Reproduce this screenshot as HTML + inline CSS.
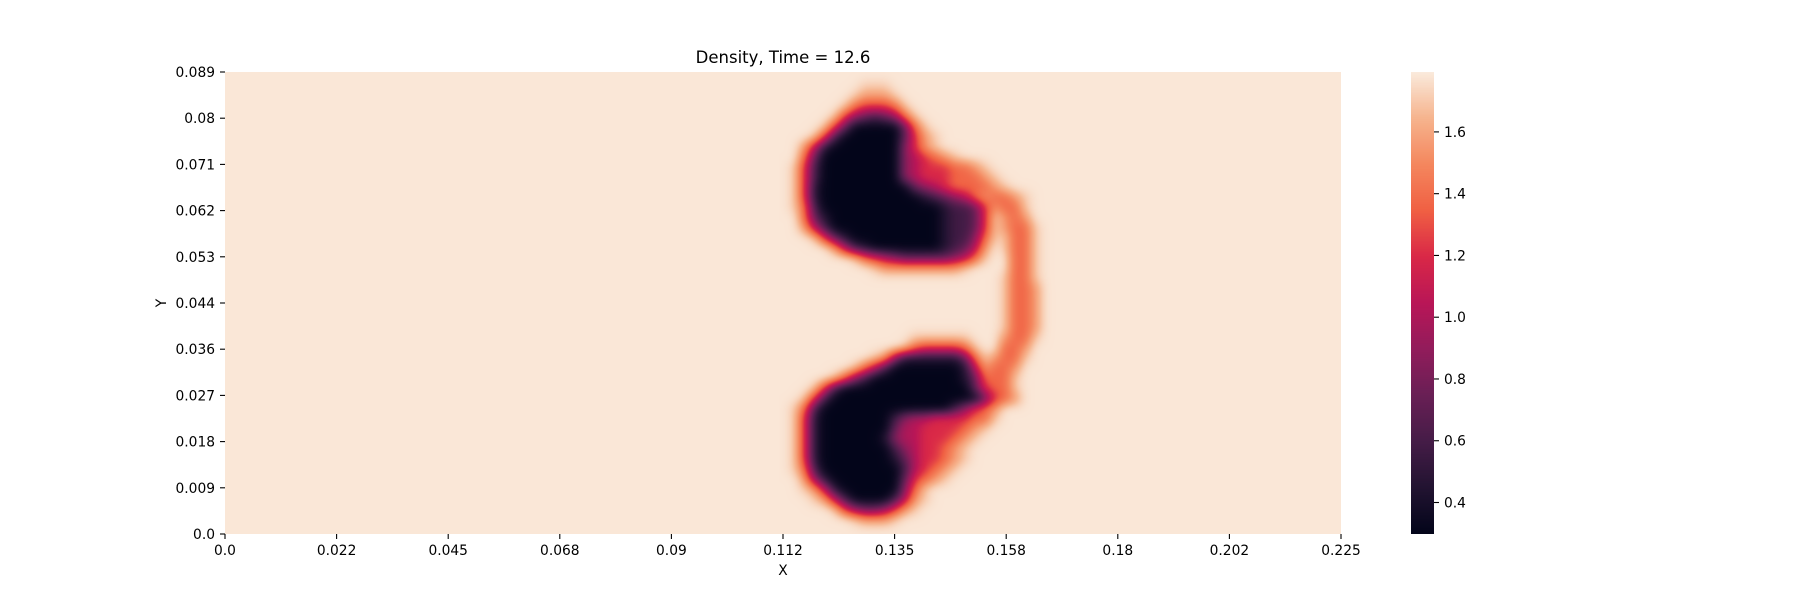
<!DOCTYPE html>
<html><head><meta charset="utf-8"><style>
html,body{margin:0;padding:0;background:#fff;}
#wrap{position:relative;width:1800px;height:600px;overflow:hidden;font-family:"DejaVu Sans","Liberation Sans",sans-serif;}
canvas{position:absolute;}
svg{position:absolute;left:0;top:0;}
</style></head><body>
<div id="wrap">
<canvas id="heat" width="1116" height="462" style="left:225px;top:72px;"></canvas>
<canvas id="cbar" width="23" height="462" style="left:1411px;top:72px;"></canvas>
<svg id="ax" width="1800" height="600">
<text x="783" y="63" font-size="16.5" text-anchor="middle" fill="#000">Density, Time = 12.6</text>
<text x="783" y="575" font-size="13.8" text-anchor="middle" fill="#000">X</text>
<text x="166" y="303" font-size="13.8" text-anchor="middle" fill="#000" transform="rotate(-90 166 303)">Y</text>
</svg>
</div>
<script>
// ---- data ----
const xTickLabels = ["0.0","0.022","0.045","0.068","0.09","0.112","0.135","0.158","0.18","0.202","0.225"];
const yTickLabels = ["0.0","0.009","0.018","0.027","0.036","0.044","0.053","0.062","0.071","0.08","0.089"];
const cbarTicks = [0.4,0.6,0.8,1.0,1.2,1.4,1.6];
const vmin = 0.298, vmax = 1.794;
const background = 1.782;
// density levels per grid character
const levelKeys = [".","9","8","7","6","5","4","3","2","1","0"];
const levelValues = [1.782,1.70,1.55,1.37,1.20,1.02,0.88,0.72,0.58,0.45,0.30];
// density grid over x∈[0.1119,0.1683], 28 columns x 46 rows (top row = y 0.089)
const gridX0 = 0.1119, gridX1 = 0.1683;
const densityRows = [
"",
"........999",
".......98889",
"......9766679",
".....964323479",
"....96300000379",
"...9620000003689",
"..85100000004689",
"..7300000000456789",
".96200000000456667789",
".962000000004566677789",
".9610000000003456777789",
".961000000000012345787789",
".972000000000000122368779",
"..73100000000000122369878",
"..852000000000001223698779",
"...96310000000001224799779",
".....8521000000012358.9779",
".......97654333334579..779",
".........9888888889....779",
"......................9779",
"......................9778",
"......................9778",
"......................9778",
"......................9778",
"......................9778",
".............999999...8779",
"............97666679..778",
".........9841111113798779",
".......97520000000158778",
".....9742000000000137779",
"...962000000000000036779",
"..9620000000000000003678",
".972000000000000024678",
".961000000024556666779",
".96100000003556666789",
".9610000001455666789",
".961000000024566789",
".961000000013566789",
".97200000000256789",
"..841000000036789",
"..9851000000479",
"...985200002589",
".....964334689",
".......98889",
""
];
// ---- geometry ----
const PL=225, PR=1341, PT=72, PB=534;
const xScale = v => PL + (v-0)/(0.225-0)*(PR-PL);
const yScale = i => PB - i*(PB-PT)/(yTickLabels.length-1);
const stops=[[0,"#03051a"],[0.1,"#221331"],[0.2,"#451c47"],[0.3,"#691f55"],[0.4,"#921c5b"],[0.5,"#b91657"],[0.6,"#d92847"],[0.7,"#f06043"],[0.8,"#f4875e"],[0.9,"#f6b48e"],[1,"#faebdd"]];
function hex(h){return [parseInt(h.substr(1,2),16),parseInt(h.substr(3,2),16),parseInt(h.substr(5,2),16)];}
function cmap(v){
  let t=Math.max(0,Math.min(1,(v-vmin)/(vmax-vmin)));
  for(let i=1;i<stops.length;i++){ if(t<=stops[i][0]){ const a=hex(stops[i-1][1]),b=hex(stops[i][1]); const f=(t-stops[i-1][0])/(stops[i][0]-stops[i-1][0]); return a.map((c,k)=>Math.round(c+(b[k]-c)*f)); } }
  return hex(stops[stops.length-1][1]);
}
// ---- heatmap ----
const hc=document.getElementById('heat').getContext('2d');
const bg=cmap(background);
hc.fillStyle=`rgb(${bg[0]},${bg[1]},${bg[2]})`;
hc.fillRect(0,0,1116,462);
const cols=28, rows=densityRows.length;
const grid=[];
for(let r=0;r<rows;r++){
  const s=(densityRows[r]+".".repeat(cols)).slice(0,cols); const row=[];
  for(let c=0;c<cols;c++){ const k=levelKeys.indexOf(s[c]); row.push(levelValues[k<0?0:k]); }
  grid.push(row);
}
const gx0=xScale(gridX0)-PL, gx1=xScale(gridX1)-PL;
const W=Math.round(gx1-gx0), H=462;
let field=new Float32Array(W*H);
for(let py=0;py<H;py++){
  let v=(py+0.5)/H*rows-0.5; v=Math.max(0,Math.min(rows-1,v));
  const r0=Math.floor(v), r1=Math.min(rows-1,r0+1), fy=v-r0;
  for(let px=0;px<W;px++){
    let u=(px+0.5)/W*cols-0.5; u=Math.max(0,Math.min(cols-1,u));
    const c0=Math.floor(u), c1=Math.min(cols-1,c0+1), fx=u-c0;
    field[py*W+px]=(grid[r0][c0]*(1-fx)+grid[r0][c1]*fx)*(1-fy)+(grid[r1][c0]*(1-fx)+grid[r1][c1]*fx)*fy;
  }
}
// smooth the value field (separable box blur, 3 passes)
function boxBlur(src,R){
  const tmp=new Float32Array(W*H), out=new Float32Array(W*H);
  for(let y=0;y<H;y++) for(let x=0;x<W;x++){ let s=0,n=0; for(let k=-R;k<=R;k++){ const xx=Math.max(0,Math.min(W-1,x+k)); s+=src[y*W+xx]; n++; } tmp[y*W+x]=s/n; }
  for(let y=0;y<H;y++) for(let x=0;x<W;x++){ let s=0,n=0; for(let k=-R;k<=R;k++){ const yy=Math.max(0,Math.min(H-1,y+k)); s+=tmp[yy*W+x]; n++; } out[y*W+x]=s/n; }
  return out;
}
field=boxBlur(boxBlur(boxBlur(field,4),4),4);
const mid=document.createElement('canvas'); mid.width=W; mid.height=H;
const mc=mid.getContext('2d'); const img=mc.createImageData(W,H);
for(let i=0;i<W*H;i++){ const col=cmap(field[i]); img.data[i*4]=col[0];img.data[i*4+1]=col[1];img.data[i*4+2]=col[2];img.data[i*4+3]=255; }
mc.putImageData(img,0,0);
hc.drawImage(mid,Math.round(gx0),0);
// ---- colorbar ----
const cc=document.getElementById('cbar').getContext('2d');
for(let y=0;y<462;y++){ const v=vmax-(y+0.5)/462*(vmax-vmin); const c=cmap(v); cc.fillStyle=`rgb(${c[0]},${c[1]},${c[2]})`; cc.fillRect(0,y,23,1); }
// ---- axes ----
const svg=document.getElementById('ax'); const NS="http://www.w3.org/2000/svg";
function mk(tag,attrs){const e=document.createElementNS(NS,tag); for(const k in attrs) e.setAttribute(k,attrs[k]); svg.appendChild(e); return e;}
xTickLabels.forEach((lab,i)=>{
  const x=PL+i*(PR-PL)/(xTickLabels.length-1);
  const t=mk('line',{x1:x,x2:x,y1:PB,y2:PB+5,stroke:'#000','stroke-width':1.1});
  
  
  const l=mk('text',{x:x,y:555,'font-size':13.8,'text-anchor':'middle',fill:'#000'}); l.textContent=lab;
  
  
});
yTickLabels.forEach((lab,i)=>{
  const y=yScale(i);
  const t=mk('line',{x1:PL-5,x2:PL,y1:y,y2:y,stroke:'#000','stroke-width':1.1});
  
  
  const l=mk('text',{x:215,y:y+5,'font-size':13.8,'text-anchor':'end',fill:'#000'}); l.textContent=lab;
  
  
});
cbarTicks.forEach(v=>{
  const y=PT+(vmax-v)/(vmax-vmin)*(PB-PT);
  const t=mk('line',{x1:1434,x2:1439,y1:y,y2:y,stroke:'#000','stroke-width':1.1});
  
  
  const l=mk('text',{x:1444,y:y+5,'font-size':13.8,fill:'#000'}); l.textContent=v.toFixed(1);
  
  
});
</script>
</body></html>
